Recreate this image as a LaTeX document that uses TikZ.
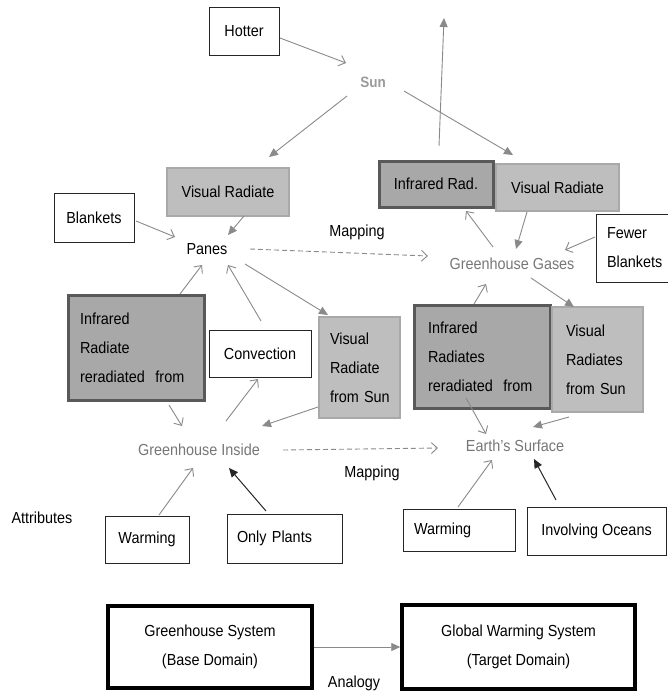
\documentclass[tikz,border=0pt]{standalone}
\usepackage{fontspec}
\setmainfont{Liberation Sans}[FakeStretch=0.9]
\usetikzlibrary{arrows.meta,calc}
\definecolor{visfill}{HTML}{BEBEBE}
\definecolor{visborder}{HTML}{A9A9A9}
\definecolor{irfill}{HTML}{A8A8A8}
\definecolor{irborder}{HTML}{595959}
\definecolor{gtext}{HTML}{777777}
\definecolor{suntext}{HTML}{9A9A9A}
\definecolor{arr}{HTML}{8A8A8A}
\begin{document}
\begin{tikzpicture}[x=1pt,y=-1pt,
  every node/.style={font=\fontsize{16}{29}\selectfont},
  plain/.style={draw=black!85, line width=0.8pt, fill=white, inner sep=0pt},
  vis/.style={draw=visborder, line width=2.5pt, fill=visfill, inner sep=0pt},
  irb/.style={draw=irborder, line width=3pt, fill=irfill, inner sep=0pt},
  bigbox/.style={draw=black, line width=3.5pt, fill=white, inner sep=0pt, align=center},
  lbl/.style={inner sep=0pt},
  gtxt/.style={text=gtext, inner sep=0pt},
  oa/.style={draw=arr, line width=0.9pt, -{Straight Barb[length=6pt,width=11pt]}},
  fa/.style={draw=arr, line width=0.9pt, -{Triangle[length=9pt,width=8pt]}},
  ba/.style={draw=black!85, line width=1pt, -{Triangle[length=9pt,width=8pt]}},
  da/.style={oa, dash pattern=on 5pt off 3pt}
]
\useasboundingbox[fill=white] (0,0) rectangle (667,693);

% top
\node[plain, minimum width=70pt, minimum height=48pt] (hotter) at (244,31) {Hotter};
\node[lbl, text=suntext, font=\fontsize{15}{18}\selectfont\bfseries] (sun) at (373,82) {Sun};
\coordinate (up) at (444,18);

\node[vis, minimum width=122pt, minimum height=48pt] (vrL) at (228,192) {Visual Radiate};
\node[irb, minimum width=114pt, minimum height=46pt] (irRad) at (436,184) {Infrared Rad.};
\node[vis, minimum width=123pt, minimum height=47pt] (vrR) at (557.5,187.5) {Visual Radiate};

\node[plain, minimum width=80pt, minimum height=49pt] (blankets) at (94,217.5) {Blankets};
\node[lbl] (panes) at (207,249) {Panes};
\node[lbl] (map1) at (357,232) {Mapping};
\node[gtxt] (gg) at (512,264) {Greenhouse Gases};
\node[plain, text width=50pt, inner xsep=11pt, minimum height=68pt, align=left] (fewer) at (632,248) {Fewer\\Blankets};

% middle
\node[irb, text width=112pt, inner xsep=12pt, minimum height=105pt, align=left] (irL) at (136,347.5) {Infrared\\Radiate\\reradiated\ \ from};
\node[plain, minimum width=102pt, minimum height=47pt] (conv) at (260,353.5) {Convection};
\node[vis, text width=59pt, inner xsep=11pt, minimum height=101pt, align=left] (vrsL) at (359.5,367.5) {Visual\\Radiate\\from~Sun};

\node[irb, text width=108pt, inner xsep=14pt, minimum height=103pt, align=left] (irR) at (482,356.5) {Infrared\\Radiates\\reradiated\ \ from};
\node[vis, text width=63pt, inner xsep=14pt, minimum height=105pt, align=left] (vrsR) at (597.5,359.5) {Visual\\Radiates\\from~Sun};

\node[gtxt] (gi) at (199,450) {Greenhouse Inside};
\node[gtxt] (es) at (515,446) {Earth's Surface};
\node[lbl] (map2) at (372,473) {Mapping};

% attributes
\node[lbl] (attr) at (42,518) {Attributes};
\node[plain, minimum width=84pt, minimum height=47pt] (warmL) at (147,539.5) {Warming};
\node[plain, text width=95pt, inner xsep=10pt, minimum height=49pt, align=left] (plants) at (284.5,538.5) {Only Plants};
\node[plain, text width=90pt, inner xsep=11pt, minimum height=42pt, align=left] (warmR) at (459,530) {Warming};
\node[plain, minimum width=139pt, minimum height=48pt] (oceans) at (596.5,531) {Involving Oceans};

% bottom
\node[bigbox, minimum width=204pt, minimum height=82pt] (gs) at (210,647) {Greenhouse System\\(Base Domain)};
\node[bigbox, minimum width=233pt, minimum height=84pt] (gw) at (518.5,647) {Global Warming System\\(Target Domain)};
\node[lbl] (analogy) at (354,683) {Analogy};

% connectors
\draw[oa] ($(hotter)+(36,7)$) -- ($(sun)+(-27,-19)$);
\draw[fa] ($(sun)+(-26,14)$) -- ($(vrL)+(41,-35)$);
\draw[fa] ($(sun)+(31,9)$) -- ($(vrR)+(-44.5,-32.5)$);
\draw[fa] ($(irRad)+(3,-38)$) -- (up);

\draw[oa] ($(blankets)+(42,3.5)$) -- ($(panes)+(-32,-12)$);
\draw[fa] ($(vrL)+(16,24)$) -- ($(panes)+(21,-14)$);
\draw[oa] ($(irL)+(44,-53.5)$) -- ($(panes)+(-5,16)$);
\draw[oa] ($(conv)+(1,-32.5)$) -- ($(panes)+(21,16)$);
\draw[fa] ($(panes)+(38,15)$) -- ($(vrsL)+(-31.5,-52.5)$);
\draw[oa] ($(irL)+(33,57.5)$) -- ($(gi)+(-17,-24)$);
\draw[oa] ($(gi)+(27,-29)$) -- ($(conv)+(-2,25.5)$);
\draw[fa] ($(vrsL)+(-41.5,39.5)$) -- ($(gi)+(63,-24)$);
\draw[da] ($(panes)+(43,0)$) -- ($(gg)+(-84,-8)$);

\draw[fa] ($(vrR)+(-30.5,24.5)$) -- ($(gg)+(4,-15)$);
\draw[oa] ($(fewer)+(-37,-11)$) -- ($(gg)+(53,-14)$);
\draw[oa] ($(gg)+(-19,-17)$) -- ($(irRad)+(30,27)$);
\draw[oa] ($(irR)+(-8,-52.5)$) -- ($(gg)+(-26,20)$);
\draw[fa] ($(gg)+(19,14)$) -- ($(vrsR)+(-23.5,-52.5)$);
\draw[oa] ($(irR)+(-16,41.5)$) -- ($(es)+(-29,-12)$);
\draw[fa] ($(vrsR)+(-28.5,57.5)$) -- ($(es)+(18,-19)$);
\draw[da] ($(gi)+(84,0)$) -- ($(es)+(-77,2)$);

\draw[oa] ($(warmL)+(12,-24.5)$) -- ($(gi)+(-6,18)$);
\draw[ba] ($(plants)+(-18.5,-27.5)$) -- ($(gi)+(30,18)$);
\draw[oa] ($(warmR)+(-1,-23)$) -- ($(es)+(-23,14)$);
\draw[ba] ($(oceans)+(-40.5,-31)$) -- ($(es)+(19,13)$);

\draw[fa] (gs.east) -- (gw.west);
\end{tikzpicture}
\end{document}
